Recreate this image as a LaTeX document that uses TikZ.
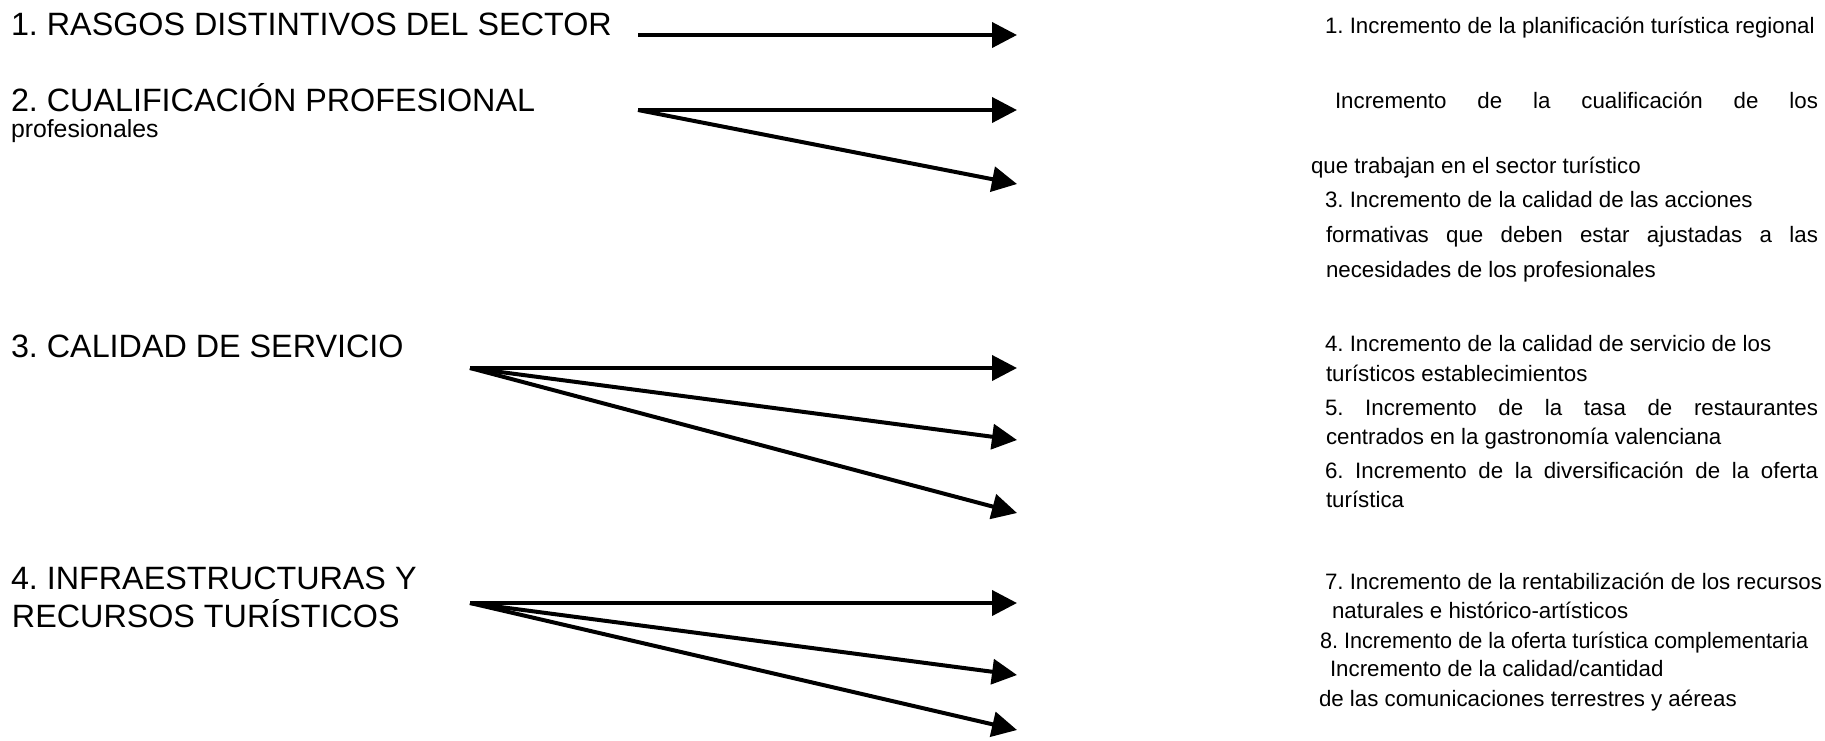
\documentclass[tikz,border=0pt]{standalone}
\usepackage{fontspec}
\setmainfont{Liberation Sans}
\usetikzlibrary{arrows.meta}
% a line set flush on both sides, spaces stretched to the given width
\newcommand\justline[2]{\makebox[#1][s]{#2}}
\frenchspacing
\begin{document}
\begin{tikzpicture}[x=1pt,y=-1pt,
  every node/.style={inner sep=0pt, outer sep=0pt, anchor=base west},
  cat/.style={font=\fontsize{32.3}{37}\selectfont},
  sub/.style={font=\fontsize{24.8}{29}\selectfont},
  item/.style={font=\fontsize{22.3}{26}\selectfont},
  link/.style={line width=4pt, -{Triangle[length=25pt,width=25pt]}}]
\useasboundingbox (0,0) rectangle (1825,740);

% factors on the left
\node[cat] (f1)  at (11,35)  {1. RASGOS DISTINTIVOS DEL SECTOR};
\node[cat] (f2)  at (11,111) {2. CUALIFICACIÓN PROFESIONAL};
\node[sub] (f2b) at (11,137) {profesionales};
\node[cat] (f3)  at (11,357) {3. CALIDAD DE SERVICIO};
\node[cat] (f4)  at (11,589) {4. INFRAESTRUCTURAS Y};
\node[cat] (f4b) at (12,627) {RECURSOS TURÍSTICOS};

% effects on the right
\node[item] (e1)  at (1325,33)  {1. Incremento de la planificación turística regional};
\node[item] (e2)  at (1335,108) {\justline{483pt}{Incremento de la cualificación de los}};
\node[item] (e2b) at (1311,173) {que trabajan en el sector turístico};
\node[item] (e3)  at (1325,207) {3. Incremento de la calidad de las acciones};
\node[item] (e3b) at (1326,242) {\justline{492pt}{formativas que deben estar ajustadas a las}};
\node[item] (e3c) at (1326,277) {necesidades de los profesionales};
\node[item] (e4)  at (1325,351) {4. Incremento de la calidad de servicio de los};
\node[item] (e4b) at (1326,381) {turísticos establecimientos};
\node[item] (e5)  at (1325,415) {\justline{493pt}{5. Incremento de la tasa de restaurantes}};
\node[item] (e5b) at (1326,444) {centrados en la gastronomía valenciana};
\node[item] (e6)  at (1325,478) {\justline{493pt}{6. Incremento de la diversificación de la oferta}};
\node[item] (e6b) at (1326,507) {turística};
\node[item] (e7)  at (1325,589) {7. Incremento de la rentabilización de los recursos};
\node[item] (e7b) at (1332,618) {naturales e histórico-artísticos};
\node[item, xscale=0.97, transform shape] (e8) at (1320,648) {8. Incremento de la oferta turística complementaria};
\node[item] (e9)  at (1330,676) {Incremento de la calidad/cantidad};
\node[item] (e9b) at (1319,706) {de las comunicaciones terrestres y aéreas};

% arrow origins and tips
\coordinate (s1) at (638,35);
\coordinate (s2) at (638,110);
\coordinate (s3) at (470,368);
\coordinate (s4) at (470,603);
\coordinate (t1)  at (1017,35);
\coordinate (t2a) at (1017,110);
\coordinate (t2b) at (1017,184);
\coordinate (t3a) at (1017,368);
\coordinate (t3b) at (1017,440);
\coordinate (t3c) at (1017,513);
\coordinate (t4a) at (1017,603);
\coordinate (t4b) at (1017,675);
\coordinate (t4c) at (1017,730);

\draw[link] (s1) -- (t1);
\draw[link] (s2) -- (t2a);
\draw[link] (s2) -- (t2b);
\draw[link] (s3) -- (t3a);
\draw[link] (s3) -- (t3b);
\draw[link] (s3) -- (t3c);
\draw[link] (s4) -- (t4a);
\draw[link] (s4) -- (t4b);
\draw[link] (s4) -- (t4c);
\end{tikzpicture}
\end{document}
